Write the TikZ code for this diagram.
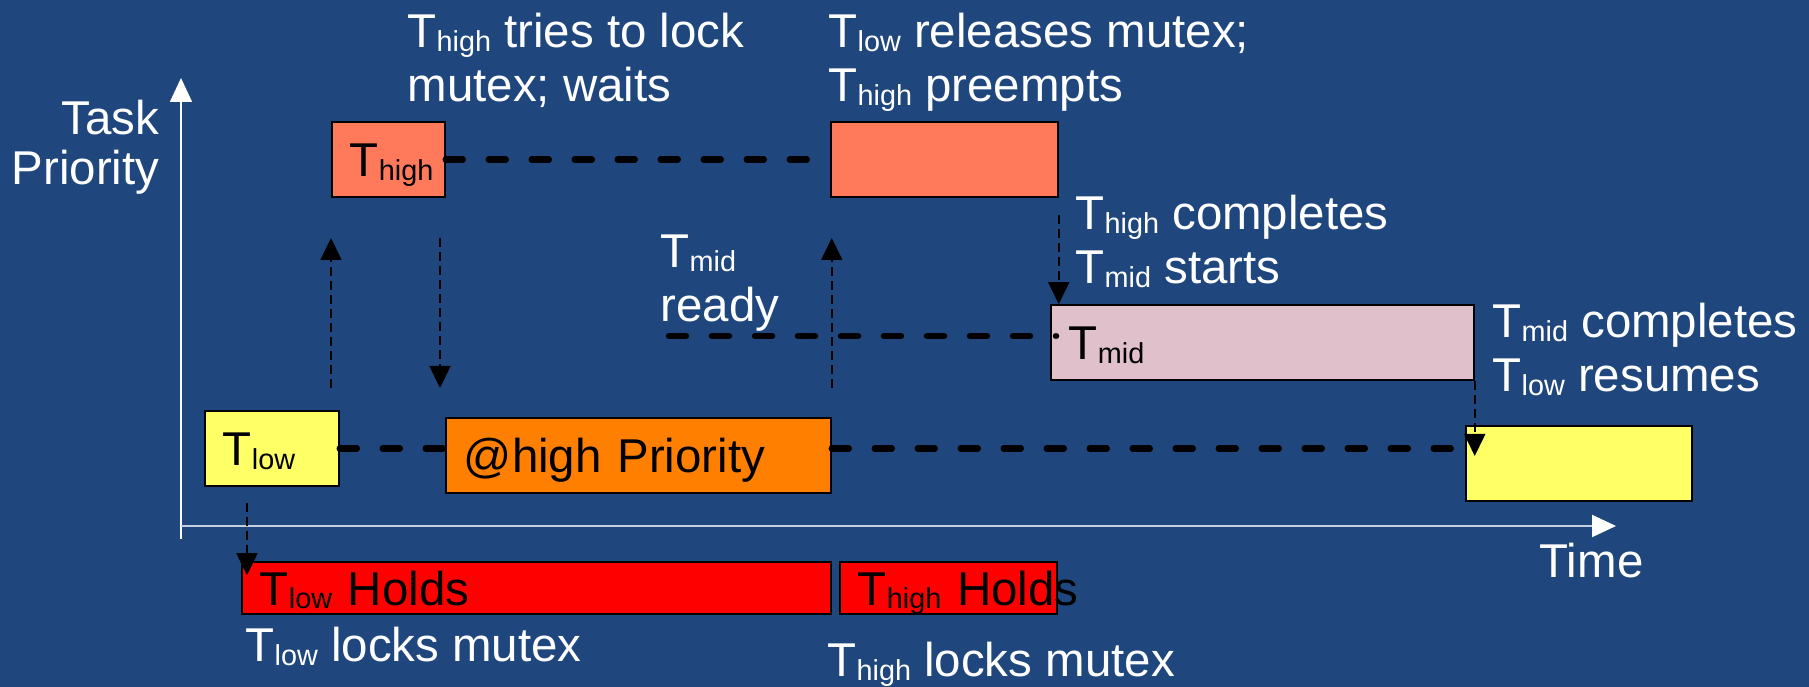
\documentclass[tikz,border=0pt]{standalone}
\usepackage{fontspec}
\setmainfont{Liberation Sans}
\usepackage{tikz}
\usepackage{xcolor}
\usetikzlibrary{arrows.meta}
\usetikzlibrary{calc}
\definecolor{slide}{HTML}{1F477E}
\definecolor{highred}{HTML}{FF7A5A}
\definecolor{midpink}{HTML}{E0C0CA}
\definecolor{lowyellow}{HTML}{FFFF66}
\definecolor{boost}{HTML}{FF8000}
\definecolor{holdred}{HTML}{FF0000}
\definecolor{axisgrey}{HTML}{C5CFDF}
\newcommand{\tsk}[1]{T\raisebox{-0.035cm}{\fontsize{8.2}{9}\selectfont #1}}
\tikzset{
  % A task running at one priority level
  taskbox/.style={
    draw=black, line width=0.5pt, anchor=south west, align=left,
    font=\fontsize{13.5}{15.4}\selectfont, text=black,
    inner xsep=0.18cm, inner ysep=0pt, text height=0.34cm, text depth=0pt,
    minimum height=0.75cm, text width=#1},
  % The mutex while a task holds it
  holdbox/.style={taskbox=#1, fill=holdred, minimum height=0.52cm},
  % A task that waits or is preempted
  waitline/.style={draw=black, line width=0.065cm, line cap=round,
    dash pattern=on 0.17cm off 0.26cm},
  % Context switches
  flow/.style={-{Triangle[width=0.21cm, length=0.22cm]}, draw=black,
    line width=0.45pt, dash pattern=on 0.09cm off 0.05cm},
  axis/.style={-{Triangle[width=0.22cm, length=0.24cm, color=white]},
    draw=white, line width=0.45pt},
  note/.style={font=\fontsize{13.5}{15.4}\selectfont, text=white, align=left,
    inner sep=0pt, anchor=base west},
}

\begin{document}
\begin{tikzpicture}

\path[use as bounding box, fill=slide] (0,0) rectangle (18.09,6.87);

% axes
\coordinate (origin) at (1.81,1.61);
\draw[axis] (1.81,1.48) -- (1.81,6.09);
\draw[axis, draw=axisgrey, line width=0.6pt] (origin) -- (16.16,1.61);
\node[note, anchor=base east, align=right, font=\fontsize{13.5}{14.4}\selectfont]
  (prioLbl) at (1.60,5.02) {Task\\Priority};
\node[note] (timeLbl) at (15.39,1.09) {Time};

% tasks
\node[taskbox=0.77cm, fill=highred] (thighA) at (3.31,4.89) {\tsk{high}};
\node[taskbox=1.91cm, fill=highred] (thighB) at (8.30,4.89) {};
\node[taskbox=3.87cm, fill=midpink] (tmid) at (10.50,3.06) {\tsk{mid}};
\node[taskbox=0.98cm, fill=lowyellow] (tlowA) at (2.04,2.00) {\tsk{low}};
\node[taskbox=3.49cm, fill=boost] (boosted) at (4.45,1.93) {@high Priority};
\node[taskbox=1.90cm, fill=lowyellow] (tlowB) at (14.65,1.85) {};

% who holds the mutex
\node[holdbox=5.53cm] (holdLow) at (2.41,0.72) {\tsk{low} Holds};
\node[holdbox=1.81cm] (holdHigh) at (8.39,0.72) {\mbox{\tsk{high} Holds}};

% waiting
\coordinate (readyStart) at (6.69,3.51);
\draw[waitline] (thighA.east) -- (thighB.west);
\draw[waitline] (readyStart) -- ($(tmid.west |- readyStart)+(0.06,0)$);
\draw[waitline] (tlowA.east) -- (tlowA.east -| boosted.west);
\draw[waitline] (tlowA.east -| boosted.east) -- (tlowA.east -| tlowB.west);

% switches
\coordinate (blockTop) at (4.40,4.49);
\coordinate (blockFoot) at (4.40,2.99);
\draw[flow] (thighA.west |- blockFoot) -- (thighA.west |- blockTop);
\draw[flow] (blockTop) -- (blockFoot);
\draw[flow] (boosted.east |- blockFoot) -- (boosted.east |- blockTop);
\draw[flow] ($(thighB.south east)+(0,-0.17)$) -- (thighB.south east |- tmid.north);
\draw[flow] (tmid.south east) -- ++(0,-0.75);
\draw[flow] ($(tlowA.south west)+(0.43,-0.16)$) -- ($(holdLow.north west)+(0.06,-0.14)$);

% events
\node[note] (waitLbl) at (4.07,5.85) {\tsk{high} tries to lock\\mutex; waits};
\node[note] (releaseLbl) at (8.28,5.85) {\tsk{low} releases mutex;\\\tsk{high} preempts};
\node[note] (switchLbl) at (10.75,4.03) {\tsk{high} completes\\\tsk{mid} starts};
\node[note] (readyLbl) at (6.60,3.65) {\tsk{mid}\\ready};
\node[note] (resumeLbl) at (14.92,2.95) {\tsk{mid} completes\\\tsk{low} resumes};
\node[note] (lockLowLbl) at (2.45,0.25) {\tsk{low} locks mutex};
\node[note] (lockHighLbl) at (8.27,0.10) {\tsk{high} locks mutex};

\end{tikzpicture}
\end{document}
